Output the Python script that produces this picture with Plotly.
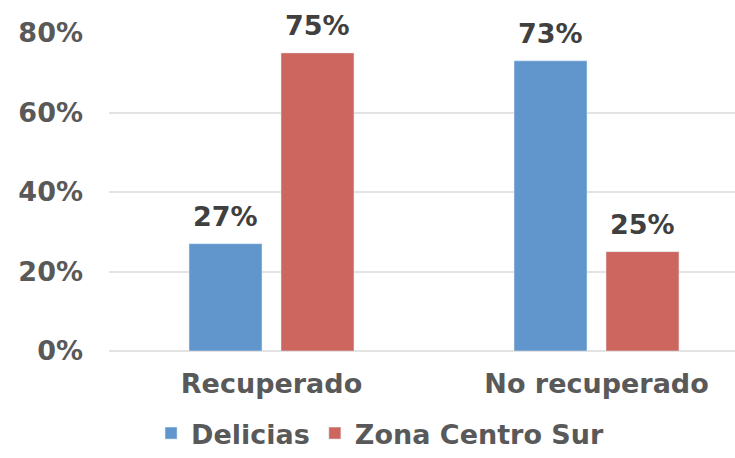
import plotly.graph_objects as go

categories = ["Recuperado", "No recuperado"]
delicias = [27, 73]
zona_centro_sur = [75, 25]
y_ticks = [0, 20, 40, 60, 80]
y_tick_labels = ["0%", "20%", "40%", "60%", "80%"]

FONT = "DejaVu Sans"
FS = 27
BARGAP = 0.434
series = [("Delicias", delicias, "#6096CB"), ("Zona Centro Sur", zona_centro_sur, "#CD665F")]

fig = go.Figure()
slot = (1 - BARGAP) / len(series)
for k, (name, vals, color) in enumerate(series):
    fig.add_trace(go.Bar(name=name, x=list(range(len(categories))), y=vals, marker_color=color))
    off = (k - (len(series) - 1) / 2) * slot
    for i, v in enumerate(vals):
        fig.add_annotation(x=i + off, y=v, text=f"{v}%", showarrow=False,
                           yanchor="bottom", yshift=10,
                           font=dict(family=FONT, size=FS, color="#404040", weight="bold"))

fig.update_layout(
    width=735, height=458,
    margin=dict(l=109, r=0, t=33, b=107, autoexpand=False),
    plot_bgcolor="white", paper_bgcolor="white",
    barmode="group", bargap=BARGAP, bargroupgap=0.2065,
    font=dict(family=FONT, size=FS, color="#595959", weight="bold"),
    showlegend=True,
    legend=dict(orientation="h", x=0.433, xanchor="center", y=-0.3365, yanchor="bottom",
                font=dict(family=FONT, size=FS, color="#595959", weight="bold"),
                itemwidth=30, tracegroupgap=0),
    xaxis=dict(range=[-0.5, -0.5 + 626 / 325], showgrid=False, showline=False,
               tickvals=list(range(len(categories))), ticktext=categories,
               ticks="", ticklabelstandoff=14, automargin=False,
               tickfont=dict(family=FONT, size=FS, color="#595959", weight="bold")),
    yaxis=dict(range=[0, 80], tickvals=y_ticks, ticktext=y_tick_labels,
               showgrid=True, gridcolor="#E3E3E3", gridwidth=1.5,
               zeroline=True, zerolinecolor="#E3E3E3", zerolinewidth=1.5,
               showline=False, ticks="", ticklabelstandoff=25, automargin=False,
               tickfont=dict(family=FONT, size=FS, color="#595959", weight="bold")),
)

fig.write_html("out.html", config={"displayModeBar": False},
               post_script="document.body.style.margin='0';document.body.style.padding='0';")
